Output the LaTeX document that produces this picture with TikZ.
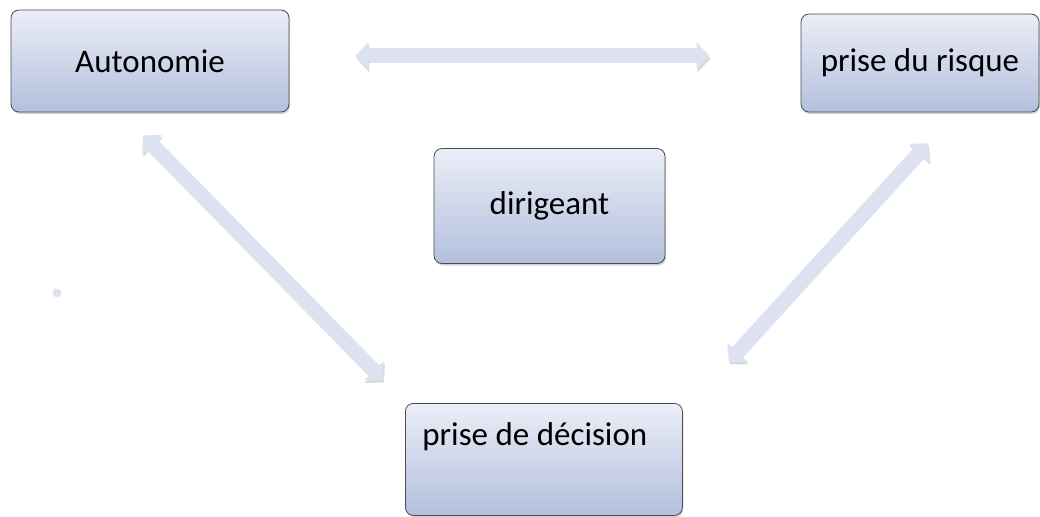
\documentclass[tikz,border=0pt]{standalone}
\usepackage{fontspec}
\setmainfont{Carlito}
\usetikzlibrary{arrows.meta, positioning, shadows}
\definecolor{boxtop}{HTML}{EBEEF7}
\definecolor{boxbot}{HTML}{B3BFDD}
\definecolor{linkcol}{HTML}{DDE2F1}
\tikzstyle{block} = [draw=black!70, line width=0.8pt, rounded corners=8pt, top color=boxtop, bottom color=boxbot, inner sep=4pt, drop shadow={shadow xshift=1pt, shadow yshift=-2pt, opacity=0.35}, font=\fontsize{33}{40}\selectfont]
\tikzstyle{link} = [line width=15pt, draw=linkcol, {Triangle[width=27pt,length=13pt]}-{Triangle[width=27pt,length=13pt]}, preaction={draw=black!15, transform canvas={xshift=1pt,yshift=-2.5pt}}]

\begin{document}
\begin{tikzpicture}[x=1pt, y=-1pt]
	\useasboundingbox (0,0) rectangle (1040,516);
	\node [block, minimum width=278pt, minimum height=102pt] (auto) at (150,61) {Autonomie};
	\node [block, minimum width=238pt, minimum height=98pt] (risque) at (920,63) {prise du risque};
	\node [block, minimum width=231pt, minimum height=115pt] (chef) at (549.5,206) {dirigeant};
	\node [block, anchor=north west, inner xsep=17pt, text width=243pt, align=flush left, text height=38pt, text depth=66pt] (decision) at (405,403) {prise de décision};
	
	\fill [linkcol] (57,293) circle (4.5);
	
	\draw [link] ([xshift=66pt,yshift=5pt]auto.east) -- ([xshift=-91pt,yshift=7pt]risque.west);
	\draw [link] ([xshift=-7pt,yshift=-23pt]auto.south) -- ([xshift=-22pt,yshift=23pt]decision.north west);
	\draw [link] ([xshift=8pt,yshift=-31pt]risque.south) -- ([xshift=46pt,yshift=41pt]decision.north east);
\end{tikzpicture}
\end{document}
